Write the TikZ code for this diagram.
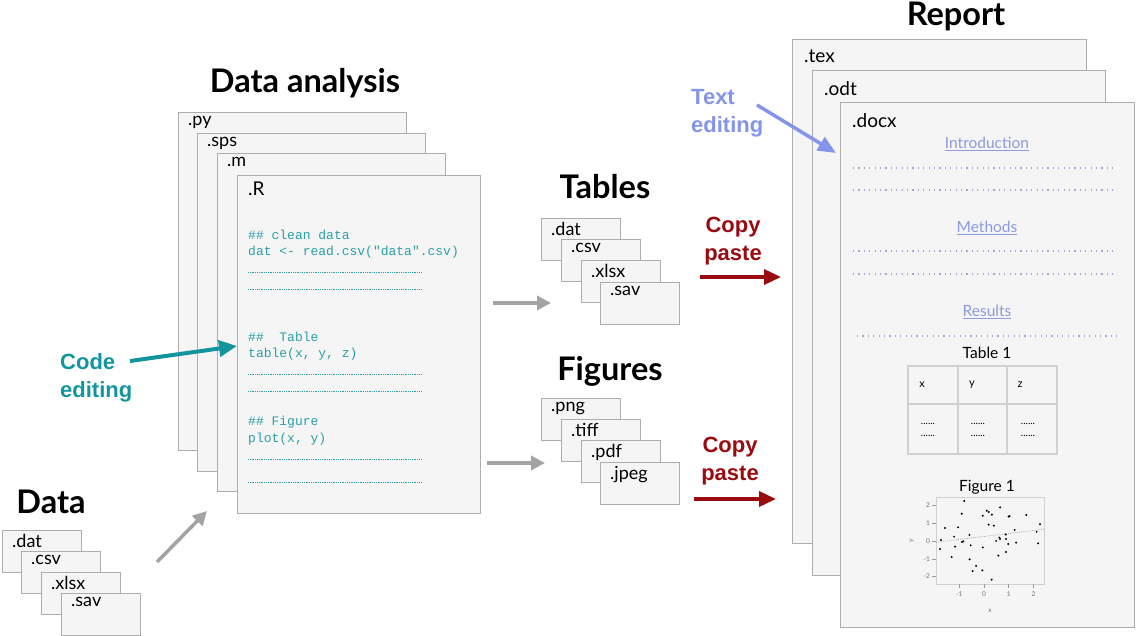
\documentclass[tikz,border=0pt]{standalone}
\usepackage{fontspec}
\setmainfont{Lato}
\setmonofont{Liberation Mono}
\newfontfamily\arialfont{Liberation Sans}
\usetikzlibrary{arrows.meta, positioning, calc}
\definecolor{boxfill}{HTML}{F5F5F5}
\definecolor{boxline}{HTML}{ADADAD}
\definecolor{codeteal}{HTML}{2A9FA8}
\definecolor{editteal}{HTML}{13959E}
\definecolor{txtblue}{HTML}{8494EA}
\definecolor{headblue}{HTML}{8C9BDD}
\definecolor{copyred}{HTML}{9A0B10}
\definecolor{flowgray}{HTML}{A3A3A3}
\definecolor{gridgray}{HTML}{D0D0D0}
\newcommand{\fs}[1]{\fontsize{#1}{#1}\selectfont}

\begin{document}
\begin{tikzpicture}[x=1pt, y=-1pt,
  ftype/.style={anchor=north west, inner sep=0pt, xshift=10, yshift=-4, font=\fs{18}},
  sheet/.style={draw=boxline, line width=1pt, fill=boxfill, anchor=north west, inner sep=0pt},
  file/.style={sheet, minimum width=79, minimum height=42, label={[ftype]north west:#1}},
  codefile/.style={sheet, minimum width=228, minimum height=338, label={[ftype]north west:#1}},
  docfile/.style={sheet, label={[ftype, font=\fs{19}, xshift=2, yshift=-7]north west:#1}},
  title/.style={font=\fs{32.5}\bfseries},
  code/.style={anchor=west, inner sep=0pt, text=codeteal, font=\ttfamily\fs{13}},
  codedots/.style={codeteal, line width=0.9pt, dash pattern=on 0.8pt off 1pt},
  docdots/.style={headblue!85, line width=1.2pt, dash pattern=on 1.2pt off 4.2pt},
  head/.style={text=headblue, font=\fs{15.5}},
  note/.style={align=left, font=\arialfont\bfseries\fontsize{22}{28}\selectfont, inner sep=0pt},
  flow/.style={flowgray, line width=3.5pt, -{Triangle[length=14pt, width=14pt]}},
  copyflow/.style={copyred, line width=3.5pt, -{Triangle[length=17pt, width=15pt]}}]
\useasboundingbox (0,0) rectangle (1136,636);

% data
\node[title] (DataT) at (51,502) {Data};
\node[file=.dat] (Dat) at (2,530) {};
\node[file=.csv] (Csv) at (21,551) {};
\node[file=.xlsx] (Xlsx) at (41,572) {};
\node[file=.sav] (Sav) at (61,593) {};

% data analysis
\node[title] (AnaT) at (305,83) {Data analysis};
\node[codefile=.py] (Py) at (178,112) {};
\node[codefile=.sps] (Sps) at (197,133) {};
\node[codefile=.m] (M) at (217,153) {};
\node[sheet, minimum width=243, minimum height=338, label={[ftype, font=\fs{19}, xshift=1, yshift=-3]north west:.R}] (R) at (237,175) {};
\node[code] (c1) at (248,235) {\#\# clean data};
\node[code] (c2) at (248,252) {dat <- read.csv("data".csv)};
\draw[codedots] (248,272) -- (421,272);
\draw[codedots] (248,289) -- (421,289);
\node[code] (c3) at (248,337) {\#\#~~Table};
\node[code] (c4) at (248,354) {table(x, y, z)};
\draw[codedots] (248,374) -- (421,374);
\draw[codedots] (248,391) -- (421,391);
\node[code] (c5) at (248,422) {\#\# Figure};
\node[code] (c6) at (248,439) {plot(x, y)};
\draw[codedots] (248,459) -- (421,459);
\draw[codedots] (248,482) -- (421,482);

% tables and figures
\node[title] (TabT) at (605,187) {Tables};
\node[file=.dat] (TDat) at (541,218) {};
\node[file=.csv] (TCsv) at (561,239) {};
\node[file=.xlsx] (TXlsx) at (581,260) {};
\node[file=.sav] (TSav) at (600,282) {};
\node[title] (FigT) at (610,371) {Figures};
\node[file=.png] (FPng) at (541,398) {};
\node[file=.tiff] (FTiff) at (561,419) {};
\node[file=.pdf] (FPdf) at (581,440) {};
\node[file=.jpeg] (FJpeg) at (600,462) {};

% report
\node[title, anchor=base] (RepT) at (956,26) {Report};
\node[docfile=.tex, minimum width=294, minimum height=504] (Tex) at (792,39) {};
\node[docfile=.odt, minimum width=293, minimum height=505] (Odt) at (812,70) {};
\node[docfile=.docx, minimum width=294, minimum height=525] (Docx) at (840,102) {};
\node[head] (Intro) at (987,144) {\underline{Introduction}};
\draw[docdots] (853,168) -- (1115,168);
\draw[docdots] (853,190) -- (1115,190);
\node[head] (Meth) at (987,228) {\underline{Methods}};
\draw[docdots] (853,251) -- (1115,251);
\draw[docdots] (853,274) -- (1115,274);
\node[head] (Res) at (987,312) {\underline{Results}};
\draw[docdots] (857,336) -- (1118,336);
\node[font=\fs{15.5}] (Tab1) at (987,353) {Table 1};
\draw[gridgray, line width=1.2pt] (908,366) rectangle (1057,454) (958,366) -- (958,454) (1007,366) -- (1007,454) (908,404) -- (1057,404);
\node[font=\fs{11}] at (922,385) {x};
\node[font=\fs{11}] at (972,385) {y};
\node[font=\fs{11}] at (1020,385) {z};
\node[font=\fontsize{10}{12}\selectfont, align=center, inner sep=0pt] at (928,430) {......\\......};
\node[font=\fontsize{10}{12}\selectfont, align=center, inner sep=0pt] at (978,430) {......\\......};
\node[font=\fontsize{10}{12}\selectfont, align=center, inner sep=0pt] at (1028,430) {......\\......};
\node[font=\fs{15.5}] (Fig1) at (987,487) {Figure 1};
\begin{scope}[shift={(984,541)}, x=24.7pt, y=17.8pt, every node/.style={text=black!55, font=\fs{6.5}, inner sep=0pt}]
\draw[gridgray, line width=0.8pt] (-1.94,-2.42) rectangle (2.43,2.47);
\foreach \t in {-2,...,2} \draw[black!40, line width=0.5pt] (-1.94,\t) -- (-2.1,\t) node[left=2pt] {\t};
\foreach \t in {-1,...,2} \draw[black!40, line width=0.5pt] (\t,-2.42) -- (\t,-2.62) node[below=4pt] {\t};
\node at (0.24,-3.9) {x};
\node[rotate=90] at (-2.92,0) {y};
\draw[black!40, line width=0.6pt, dash pattern=on 1pt off 1.2pt] (-1.94,-0.07) -- (2.43,0.66);
\foreach \px/\py in {-0.80/2.25, -0.90/1.53, 0.11/1.70, 0.19/1.63, 0.65/1.89, 0.32/1.48, -0.05/1.42, 1.04/1.40, 1.00/1.37, 1.71/1.46, 2.27/0.94, -1.58/0.73, -1.05/0.77, 0.19/0.92, 0.40/0.86, 1.24/0.62, 2.13/0.52, -0.59/0.34, 0.88/0.36, -1.74/0.06, -1.21/0.24, -0.84/-0.02, -0.89/-0.06, 0.62/0.19, 0.65/0.11, 0.89/0.11, 0.49/0.0, 0.98/-0.17, 1.30/-0.09, 2.19/-0.13, -1.78/-0.45, -1.17/-0.32, -0.54/-0.24, -0.05/-0.36, -1.31/-0.90, 0.58/-0.82, 0.89/-0.62, -0.58/-1.03, -0.32/-1.40, -0.46/-1.69, -0.07/-1.65, 0.31/-2.17}
  \fill (\px,\py) circle (1.1pt);
\end{scope}

% connectors
\coordinate (dataout) at (157,562);
\coordinate (anain) at (207,511);
\coordinate (tabfrom) at (493,303);
\coordinate (tabto) at (551,303);
\coordinate (figfrom) at (487,463);
\coordinate (figto) at (545,463);
\draw[flow] (dataout) -- (anain);
\draw[flow] (tabfrom) -- (tabto);
\draw[flow] (figfrom) -- (figto);
\node[note, text=copyred, align=center] (Copy1) at (733,241) {Copy\\paste};
\node[note, text=copyred, align=center] (Copy2) at (730,461) {Copy\\paste};
\coordinate (cp1a) at (700,277);
\coordinate (cp1b) at (781,277);
\coordinate (cp2a) at (694,499);
\coordinate (cp2b) at (776,499);
\draw[copyflow] (cp1a) -- (cp1b);
\draw[copyflow] (cp2a) -- (cp2b);
\node[note, text=editteal, anchor=west] (CodeEd) at (60,378) {Code\\editing};
\coordinate (codetip) at (237,346);
\draw[editteal, line width=4pt, -{Triangle[length=18pt, width=16pt]}] (130,361) -- (codetip);
\node[note, text=txtblue, anchor=west] (TextEd) at (691,113) {Text\\editing};
\coordinate (texttip) at (836,153);
\draw[txtblue, line width=3.5pt, -{Triangle[length=18pt, width=15pt]}] (757,105) -- (texttip);
\end{tikzpicture}
\end{document}
